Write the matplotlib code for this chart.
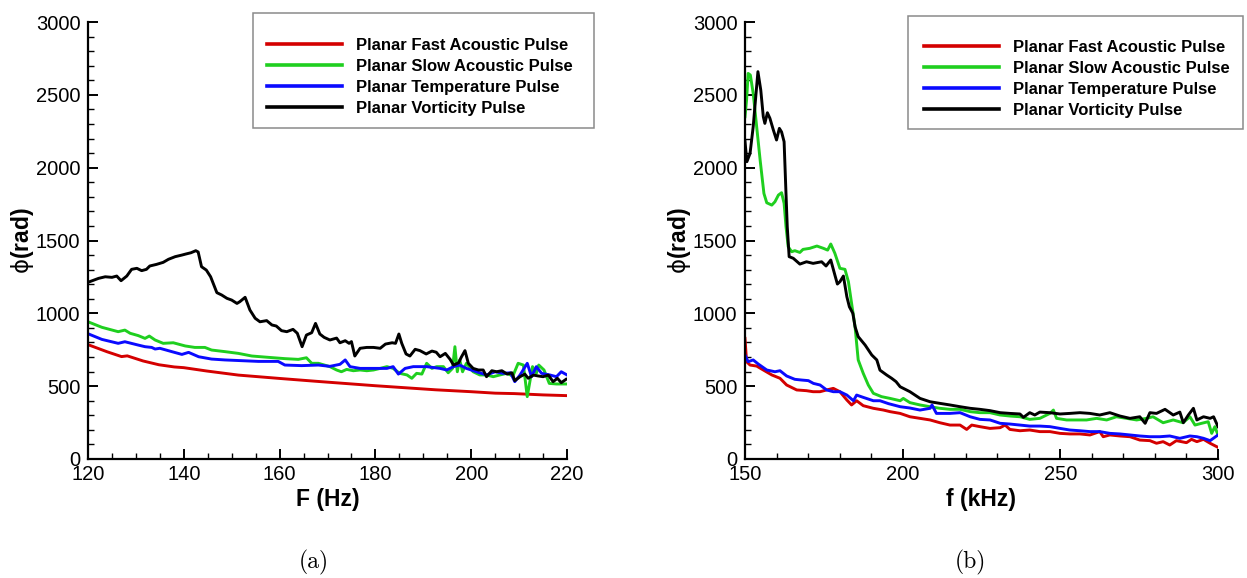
import matplotlib
matplotlib.use("Agg")
import matplotlib.pyplot as plt
from matplotlib.patches import Rectangle
from matplotlib.ticker import MultipleLocator

# ---------------- (a) low-frequency band, F in Hz ----------------
a_fast_f = [120, 124, 127, 128.2, 131.5, 134.8, 138, 140, 144.8, 151.4, 160, 167.8,
            180, 192.6, 200, 205, 209, 215, 220]
a_fast_phi = [785, 736, 703, 708, 673, 647, 632, 627, 604, 576, 553, 533,
              503, 475, 462, 452, 449, 440, 435]

a_slow_f = [120, 122.9, 126.3, 127.7, 128.8, 130.5, 131.9, 132.8, 134, 135.7, 137.8, 140.3,
            142.3, 144.4, 145.8, 148.6, 151.4, 154.2, 157.6, 161.1, 163.9, 165.6, 166.7, 168.1,
            170.5, 171.9, 172.9, 174, 175.4, 176.8, 178.2, 179.6, 181, 182.4, 183.7, 185.1,
            186.6, 187.6, 188.6, 189.7, 190.7, 191.8, 192.8, 194.2, 195.2, 196.1, 196.6, 197.1,
            197.6, 198.2, 199, 200.4, 201.8, 203.2, 204.6, 206, 207.4, 208.7, 209.8, 210.9,
            211.7, 212.8, 213.6, 214.1, 215.2, 216.3, 217.8, 220]
a_slow_phi = [942, 904, 874, 885, 863, 847, 828, 844, 817, 794, 798, 776,
              766, 766, 748, 737, 725, 707, 698, 689, 684, 695, 657, 657,
              634, 611, 599, 615, 606, 611, 606, 611, 622, 634, 622, 588,
              577, 554, 588, 583, 657, 622, 634, 634, 592, 622, 771, 599,
              680, 599, 657, 599, 577, 577, 565, 577, 588, 570, 657, 645,
              428, 634, 588, 645, 611, 519, 515, 515]

a_temp_f = [120, 122.9, 126.3, 127.7, 130.5, 131.9, 133.3, 134, 135, 137.5, 139.6, 141,
            143.1, 145.8, 148.6, 152.1, 155.6, 159.7, 161.1, 164.6, 168.1, 170.5, 172.6, 173.7,
            174.7, 176.8, 179.6, 182.4, 183.7, 184.8, 186.2, 187.9, 190.7, 193.5, 194.9, 196.3,
            197.6, 199, 201.1, 203.2, 205, 206.7, 208.2, 209.1, 210.2, 211.7, 212.6, 213.6,
            214.7, 216.4, 217.8, 218.8, 220]
a_temp_phi = [860, 821, 794, 805, 782, 771, 766, 755, 760, 737, 718, 732,
              702, 686, 680, 675, 670, 670, 645, 641, 645, 636, 650, 680,
              634, 622, 622, 622, 634, 583, 622, 634, 634, 622, 611, 634,
              645, 622, 599, 577, 599, 588, 592, 531, 577, 657, 565, 634,
              588, 577, 565, 599, 577]

a_vort_f = [120, 122.2, 123.6, 125, 126, 126.9, 128.1, 129.1, 130.2, 131.2, 132.2, 132.9,
            134.3, 135.7, 136.8, 138.2, 139.6, 140.4, 141.5, 142.5, 143, 143.7, 144.7, 145.6,
            146.9, 147.9, 149, 150, 151.1, 151.7, 152.8, 153.8, 154.9, 155.9, 157.3, 158.4,
            159.3, 160.4, 161.5, 162.8, 163.7, 164.7, 165.6, 166.7, 167.5, 168.4, 169.3, 170.5,
            171.9, 172.6, 173.7, 174.5, 175, 175.7, 176.8, 178.2, 179.6, 181, 182.1, 183.5,
            184.2, 184.9, 185.5, 186.4, 187.2, 188.3, 189.3, 190.6, 191.8, 192.7, 193.5, 194.6,
            195.6, 196.3, 197.4, 197.9, 198.7, 199.4, 200.4, 201.5, 202.5, 203.2, 204.3, 205.3,
            206.4, 207.5, 208.5, 209.1, 210.2, 211.2, 211.9, 213, 214, 215, 216.1, 217.1,
            218, 218.8, 219.8]
a_vort_phi = [1213, 1240, 1251, 1247, 1256, 1224, 1256, 1302, 1309, 1293, 1302, 1325,
              1336, 1350, 1371, 1389, 1400, 1407, 1416, 1430, 1421, 1320, 1297, 1251,
              1142, 1126, 1103, 1091, 1068, 1080, 1110, 1023, 966, 942, 950, 920,
              913, 881, 874, 890, 863, 771, 851, 867, 931, 858, 835, 817,
              830, 798, 812, 794, 806, 707, 760, 766, 766, 760, 789, 798,
              794, 858, 794, 721, 707, 753, 744, 721, 741, 733, 702, 725,
              684, 645, 661, 697, 744, 657, 622, 611, 611, 565, 606, 599,
              606, 583, 592, 538, 565, 583, 554, 576, 570, 565, 576, 531,
              554, 524, 547]

# ---------------- (b) high-frequency band, f in kHz ----------------
b_fast_f = [150, 150.5, 151.6, 153.7, 155.8, 158.5, 161.1, 163.2, 166.4, 169.5, 171.6, 173.8,
            175.9, 178, 180.1, 182.3, 183.8, 185.4, 187.5, 190.7, 193.9, 196, 199.2, 202.3,
            205.5, 208.7, 211.8, 215, 218.2, 220.3, 221.9, 224.5, 227.7, 230.9, 232.5, 234,
            237.2, 240.3, 243.5, 246.7, 249.9, 253, 256.2, 259.4, 262.5, 263.6, 265.7, 268.9,
            272.1, 275.2, 278.4, 280.5, 282.6, 284.7, 286.8, 290, 291.6, 293.3, 295.4, 297.5, 300]
b_fast_phi = [828, 668, 645, 638, 611, 577, 554, 508, 474, 469, 462, 462,
              474, 485, 462, 405, 371, 400, 366, 348, 336, 325, 313, 290,
              279, 268, 249, 233, 233, 203, 233, 222, 210, 215, 233, 203,
              194, 199, 188, 188, 176, 172, 172, 165, 188, 153, 165, 158,
              153, 130, 126, 108, 119, 96, 126, 112, 135, 119, 135, 108, 80]

b_slow_f = [150, 150.5, 151, 151.7, 152.6, 153.7, 154.8, 156, 156.9, 158.5, 159.5, 160.6,
            161.6, 162.4, 163, 163.7, 164.8, 165.8, 167.4, 168.4, 170.5, 172.8, 174.9, 176.2,
            177.2, 178.5, 180.1, 181.7, 182.8, 183.8, 184.9, 185.9, 187.5, 189.1, 190.7, 193.3,
            196, 199.2, 200.2, 202.3, 205.5, 208.7, 211.8, 215, 218.2, 221.4, 224.5, 227.7,
            230.9, 234, 237.2, 240.3, 243.5, 246.7, 247.8, 248.8, 252, 255.2, 258.3, 261.5,
            264.7, 267.8, 271, 274.2, 277.3, 279.4, 282.6, 285.8, 288.9, 291.1, 292.7, 294.8,
            296.9, 298, 299, 300]
b_slow_phi = [2350, 2464, 2647, 2636, 2510, 2281, 2052, 1823, 1759, 1743, 1766, 1812,
              1828, 1755, 1595, 1457, 1423, 1430, 1418, 1439, 1446, 1462, 1446, 1434,
              1476, 1412, 1309, 1302, 1217, 1069, 908, 680, 588, 508, 451, 428,
              416, 400, 416, 387, 371, 359, 348, 341, 341, 325, 318, 318,
              302, 295, 290, 272, 279, 313, 336, 279, 268, 268, 268, 279,
              268, 290, 279, 268, 279, 290, 249, 268, 249, 290, 233, 245,
              256, 176, 222, 165]

b_temp_f = [150, 151, 152.6, 154.2, 156.9, 159.5, 161.1, 163.2, 165.8, 168, 170.1, 171.7,
            173.8, 175.9, 178, 180.1, 182.3, 184.4, 185.4, 187.5, 190.7, 192.8, 195.5, 199.2,
            202.3, 205.5, 208.7, 209.3, 210.7, 215, 218.2, 221.4, 224.5, 227.7, 229.4, 230.9,
            234, 237.2, 240.3, 243.5, 246.7, 249.9, 253, 256.2, 259.4, 262.5, 265.7, 268.9,
            272.1, 275.2, 278.4, 281.6, 284.7, 287.9, 291.1, 293.3, 295.4, 297.5, 300]
b_temp_phi = [714, 668, 680, 652, 611, 599, 606, 570, 547, 542, 538, 519,
              508, 474, 462, 462, 439, 400, 439, 423, 400, 400, 380, 359,
              350, 336, 348, 371, 313, 313, 318, 290, 272, 268, 256, 245,
              240, 233, 226, 226, 222, 210, 199, 194, 188, 188, 176, 172,
              165, 158, 153, 153, 158, 142, 158, 153, 142, 126, 165]

b_vort_f = [150, 150.6, 151.6, 152.6, 153.5, 154.1, 155, 155.8, 156.3, 157.1, 157.9, 159,
            160, 160.9, 161.6, 162.4, 163, 163.4, 164, 165.3, 167.4, 169.5, 171.6, 174.3,
            175.7, 177.2, 178.5, 179.3, 180.1, 181.2, 182.3, 183.1, 184.2, 184.9, 185.9, 188.1,
            190.2, 191.8, 192.8, 194.9, 196.5, 197.9, 199.2, 202.3, 205.5, 208.7, 211.8, 215,
            218.2, 221.4, 224.5, 227.7, 230.9, 234, 237.2, 238.3, 240.3, 241.9, 243.5, 246.7,
            249.9, 253, 256.2, 259.4, 262.5, 265.7, 268.9, 272.1, 275.2, 276.9, 278.4, 280.5,
            283.2, 285.8, 287.9, 289, 290.6, 292.2, 293.3, 295.4, 297.5, 298.6, 300]
b_vort_phi = [2180, 2041, 2098, 2281, 2510, 2659, 2533, 2350, 2304, 2377, 2339, 2258,
              2190, 2270, 2245, 2178, 1823, 1595, 1389, 1378, 1338, 1354, 1343, 1354,
              1325, 1366, 1263, 1201, 1217, 1256, 1114, 1045, 1000, 908, 840, 782,
              714, 680, 610, 577, 554, 531, 496, 462, 416, 393, 382, 371,
              359, 348, 341, 332, 318, 313, 309, 286, 318, 302, 322, 318,
              309, 313, 318, 313, 302, 318, 295, 279, 290, 245, 318, 313,
              341, 302, 322, 249, 302, 348, 268, 290, 279, 290, 222]

labels = ["Planar Fast Acoustic Pulse", "Planar Slow Acoustic Pulse",
          "Planar Temperature Pulse", "Planar Vorticity Pulse"]
colors = ["#d40000", "#1fcf1f", "#0a0aff", "#000000"]

SANS = ["Liberation Sans", "DejaVu Sans"]
plt.rcParams["font.family"] = SANS
plt.rcParams["mathtext.fontset"] = "dejavusans"

W, H = 1247, 578
fig = plt.figure(figsize=(W / 100, H / 100), dpi=100)


def fx(px):
    return px / W


def fy(py):
    return 1 - py / H


def make_panel(rect, series, xlim, xmajor, xminor, xlabel, leg_anchor, frame, caption, cap_x):
    ax = fig.add_axes(rect)
    for (f, v), lab, c in zip(series, labels, colors):
        ax.plot(f, v, color=c, lw=2.1, label=lab, solid_joinstyle="round")
    ax.set_xlim(*xlim)
    ax.set_ylim(0, 3000)
    ax.xaxis.set_major_locator(MultipleLocator(xmajor))
    ax.xaxis.set_minor_locator(MultipleLocator(xminor))
    ax.yaxis.set_major_locator(MultipleLocator(500))
    ax.yaxis.set_minor_locator(MultipleLocator(100))
    for s in ("top", "right"):
        ax.spines[s].set_visible(False)
    for s in ("left", "bottom"):
        ax.spines[s].set_linewidth(1.6)
    ax.tick_params(which="both", direction="in", labelsize=14.5, colors="black")
    ax.tick_params(which="major", length=7.5, width=1.4)
    ax.tick_params(which="minor", length=4.3, width=1.0)
    ax.tick_params(axis="y", pad=5.5)
    ax.tick_params(axis="x", pad=4)
    ax.set_xlabel(xlabel, fontsize=16.5, fontweight="bold", labelpad=3)
    ax.set_ylabel(r"$\mathrm{\phi}$(rad)", fontsize=16.5, fontweight="bold", labelpad=-0.5)

    leg = ax.legend(loc="upper left", bbox_to_anchor=leg_anchor,
                    bbox_transform=fig.transFigure, frameon=False,
                    prop={"family": SANS, "weight": "bold", "size": 12},
                    handlelength=4.5, handletextpad=0.85, labelspacing=0.35,
                    borderpad=0, borderaxespad=0)
    for line in leg.get_lines():
        line.set_linewidth(2.6)
    x0, y0, x1, y1 = frame
    fig.patches.append(Rectangle((fx(x0), fy(y1)), fx(x1 - x0), (y1 - y0) / H,
                                 transform=fig.transFigure, fill=False,
                                 edgecolor="#8a8a8a", lw=1.1, zorder=5))
    fig.text(fx(cap_x), fy(562), caption, ha="center", va="center",
             fontsize=17, family="cmr10")
    return ax


ax_a = make_panel([fx(88), fy(459), fx(567 - 88), (459 - 22) / H],
                  [(a_fast_f, a_fast_phi), (a_slow_f, a_slow_phi),
                   (a_temp_f, a_temp_phi), (a_vort_f, a_vort_phi)],
                  (120, 220), 20, 5, "F (Hz)",
                  (fx(267), fy(38)), (253, 13, 594, 128), "(a)", 314)

ax_b = make_panel([fx(745), fy(459), fx(1218 - 745), (459 - 22) / H],
                  [(b_fast_f, b_fast_phi), (b_slow_f, b_slow_phi),
                   (b_temp_f, b_temp_phi), (b_vort_f, b_vort_phi)],
                  (150, 300), 50, 10, "f (kHz)",
                  (fx(924), fy(40)), (908, 16, 1243, 129), "(b)", 970)

fig.savefig("out.png", dpi=100)
